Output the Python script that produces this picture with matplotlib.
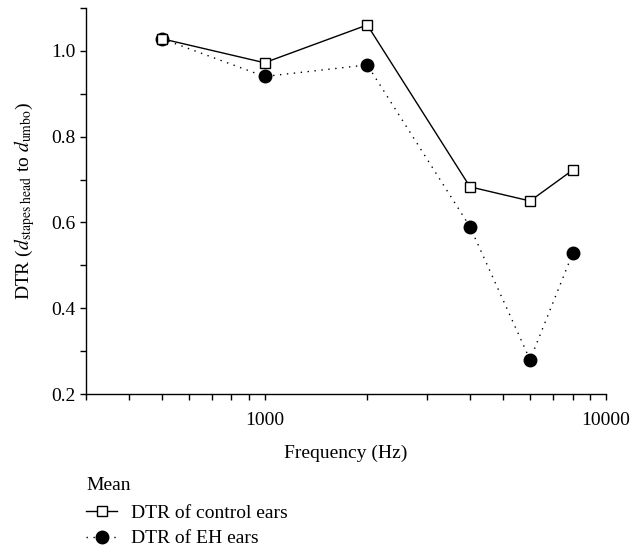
import numpy as np
import matplotlib
matplotlib.use("Agg")
import matplotlib.pyplot as plt
from matplotlib.ticker import FixedLocator, NullFormatter, MultipleLocator

plt.rcParams['font.family'] = ['Liberation Serif', 'DejaVu Serif']
plt.rcParams['mathtext.fontset'] = 'stix'

# data
freqs = [500, 1000, 2000, 4000, 6000, 8000]
dtr_control = [1.028, 0.972, 1.060, 0.683, 0.650, 0.722]
dtr_eh = [1.028, 0.940, 0.967, 0.590, 0.280, 0.528]
series_labels = ["DTR of control ears", "DTR of EH ears"]

fs = 14

fig = plt.figure(figsize=(6.33, 5.56), dpi=100)
ax = fig.add_axes([0.136, 0.291, 0.821, 0.695])

ax.plot(freqs, dtr_control, color='black', lw=1.0, marker='s', ms=7,
        mfc='white', mec='black', mew=1.0, label=series_labels[0], zorder=3)
ax.plot(freqs, dtr_eh, color='black', lw=1.0, ls=(0, (1, 4)), marker='o', ms=9,
        mfc='black', mec='black', label=series_labels[1], zorder=2)

ax.set_xscale('log')
ax.set_xlim(300, 10000)
ax.set_ylim(0.2, 1.1)

ax.xaxis.set_major_locator(FixedLocator([1000, 10000]))
ax.xaxis.set_major_formatter(matplotlib.ticker.FixedFormatter(['1000', '10000']))
minors = [300, 400, 500, 600, 700, 800, 900, 2000, 3000, 4000, 5000, 6000, 7000, 8000, 9000]
ax.xaxis.set_minor_locator(FixedLocator(minors))
ax.xaxis.set_minor_formatter(NullFormatter())

ax.yaxis.set_major_locator(MultipleLocator(0.2))
ax.yaxis.set_minor_locator(MultipleLocator(0.1))
ax.yaxis.set_major_formatter(matplotlib.ticker.FormatStrFormatter('%.1f'))

for s in ['top', 'right']:
    ax.spines[s].set_visible(False)
for s in ['left', 'bottom']:
    ax.spines[s].set_linewidth(1.0)

ax.tick_params(axis='both', which='major', direction='out', length=4, width=1.0,
               labelsize=fs)
ax.tick_params(axis='both', which='minor', direction='out', length=4, width=1.0)
ax.tick_params(axis='x', which='major', pad=9)

ax.set_xlabel('Frequency (Hz)', fontsize=fs, labelpad=11)
ax.set_ylabel(r'DTR ($d_{\mathrm{stapes\ head}}$ to $d_{\mathrm{umbo}}$)', fontsize=fs, labelpad=10)

leg = ax.legend(loc='upper left', bbox_to_anchor=(0.0, -0.215), frameon=False,
                title='Mean', fontsize=fs, title_fontsize=fs, handlelength=1.6,
                handletextpad=0.7, labelspacing=0.42, borderaxespad=0,
                borderpad=0)
leg._legend_box.align = 'left'
leg._legend_box.sep = 7

fig.savefig('out.png', dpi=100)
